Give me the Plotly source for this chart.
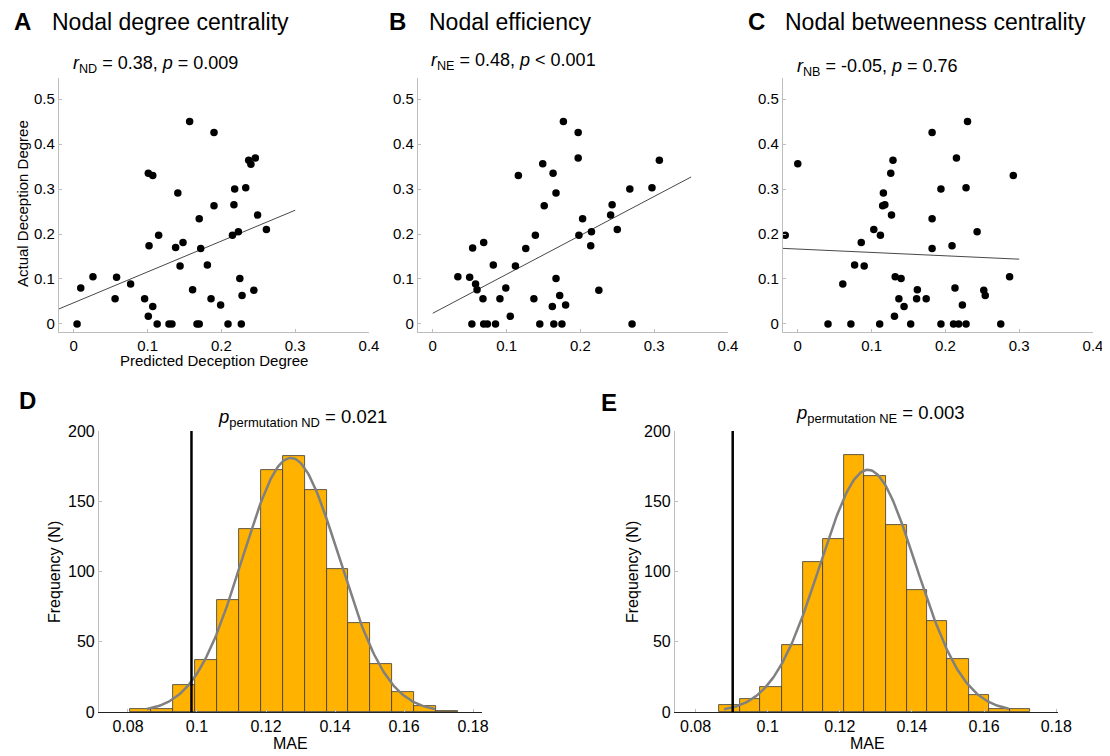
import numpy as np
import plotly.graph_objects as go

# ---------------- data ----------------
A_x = [0.0045, 0.0095, 0.026, 0.056, 0.058, 0.077, 0.096, 0.101, 0.107, 0.113, 0.102, 0.101, 0.107, 0.115,
       0.129, 0.133, 0.138, 0.141, 0.144, 0.148, 0.157, 0.161, 0.167, 0.170, 0.170, 0.172, 0.181, 0.186,
       0.190, 0.190, 0.199, 0.209, 0.215, 0.217, 0.218, 0.223, 0.225, 0.227, 0.228, 0.233, 0.237, 0.240,
       0.246, 0.244, 0.249, 0.261]
A_y = [0, 0.080, 0.105, 0.056, 0.104, 0.089, 0.056, 0.017, 0.039, 0, 0.174, 0.335, 0.330, 0.197,
       0, 0, 0.170, 0.291, 0.129, 0.181, 0.450, 0.076, 0, 0, 0.234, 0.168, 0.131, 0.056,
       0.426, 0.263, 0.042, 0, 0.197, 0.265, 0.300, 0.205, 0.101, 0, 0.063, 0.303, 0.364, 0.355,
       0.369, 0.075, 0.242, 0.210]

B_x = [0.034, 0.050, 0.054, 0.053, 0.058, 0.060, 0.068, 0.069, 0.069, 0.074, 0.082, 0.085, 0.091, 0.099,
       0.105, 0.112, 0.116, 0.126, 0.137, 0.139, 0.145, 0.149, 0.151, 0.162, 0.163, 0.164, 0.167, 0.167,
       0.172, 0.175, 0.177, 0.180, 0.197, 0.197, 0.198, 0.203, 0.214, 0.215, 0.225, 0.241, 0.243, 0.250,
       0.267, 0.270, 0.297, 0.307]
B_y = [0.105, 0.104, 0.169, 0, 0.089, 0.076, 0.056, 0.181, 0, 0, 0.131, 0, 0.056, 0.080,
       0.017, 0.129, 0.330, 0.168, 0.056, 0.197, 0, 0.356, 0.263, 0.039, 0.335, 0, 0.291, 0.101,
       0.063, 0, 0.450, 0.042, 0.426, 0.369, 0.197, 0.234, 0.174, 0.205, 0.075, 0.242, 0.265, 0.210,
       0.300, 0, 0.303, 0.364]

C_x = [-0.017, 0.000, 0.041, 0.061, 0.072, 0.077, 0.086, 0.090, 0.103, 0.111, 0.112, 0.116, 0.115, 0.118,
       0.126, 0.127, 0.129, 0.131, 0.132, 0.137, 0.140, 0.144, 0.153, 0.161, 0.162, 0.174, 0.182, 0.182,
       0.182, 0.194, 0.194, 0.209, 0.211, 0.213, 0.215, 0.218, 0.223, 0.228, 0.228, 0.230, 0.243, 0.252,
       0.254, 0.275, 0.287, 0.292]
C_y = [0.197, 0.356, 0, 0.089, 0, 0.131, 0.181, 0.129, 0.210, 0, 0.197, 0.291, 0.263, 0.265,
       0.335, 0.242, 0.364, 0.017, 0.105, 0.056, 0.101, 0.039, 0, 0.056, 0.076, 0.056, 0.426, 0.234,
       0.168, 0.300, 0, 0.174, 0, 0.080, 0.369, 0, 0.042, 0.303, 0, 0.450, 0.205, 0.075,
       0.063, 0, 0.105, 0.330]

# regression lines: (intercept, slope, x_start, x_end)
fit_A = (0.0471, 0.686, -0.02, 0.30)
fit_B = (0.0237, 0.866, 0.00, 0.35)
fit_C = (0.1665, -0.075, -0.02, 0.30)

# permutation histograms
D_edges = [0.0805, 0.0868, 0.0931, 0.0995, 0.1059, 0.1122, 0.1186, 0.1249, 0.1312, 0.1376, 0.1439,
           0.1501, 0.1565, 0.1629, 0.1693, 0.1757]
D_counts = [2, 2, 19, 37, 80, 130, 172, 182, 158, 102, 63, 34, 14, 4, 1]
E_edges = [0.0866, 0.0923, 0.0980, 0.1039, 0.1097, 0.1152, 0.1211, 0.1268, 0.1327, 0.1385, 0.1442,
           0.1497, 0.1557, 0.1614, 0.1671, 0.1728]
E_counts = [5, 9, 18, 48, 107, 123, 183, 168, 133, 87, 65, 38, 12, 2, 2]

# normal fits (mu, sigma, x_start, x_end) and observed MAE
D_fit = (0.1272, 0.0140, 0.0855, 0.169)
E_fit = (0.1278, 0.0133, 0.0879, 0.167)
D_obs = 0.0984
E_obs = 0.0903

scatter_xticks = [0, 0.1, 0.2, 0.3, 0.4]
scatter_xtext = ["0", "0.1", "0.2", "0.3", "0.4"]
scatter_yticks = [0, 0.1, 0.2, 0.3, 0.4, 0.5]
scatter_ytext = ["0", "0.1", "0.2", "0.3", "0.4", "0.5"]
hist_xticks = [0.08, 0.10, 0.12, 0.14, 0.16, 0.18]
hist_xtext = ["0.08", "0.1", "0.12", "0.14", "0.16", "0.18"]
hist_yticks = [0, 50, 100, 150, 200]

# ---------------- figure ----------------
W, H = 1110, 756
OFF = 8  # page body margin: screen position = paper position + OFF
FONT = "Liberation Sans, Arial, sans-serif"
GRAY = "#BDBDBD"


def px(x):
    return (x - OFF) / W


def py(y):
    return 1 - (y - OFF) / H


fig = go.Figure()

scatters = [(A_x, A_y, fit_A, "x", "y"), (B_x, B_y, fit_B, "x2", "y2"), (C_x, C_y, fit_C, "x3", "y3")]
for xs, ys, fit, xa, ya in scatters:
    b0, b1, xs0, xs1 = fit
    lx = np.array([xs0, xs1])
    fig.add_trace(go.Scatter(x=lx, y=b0 + b1 * lx, mode="lines", xaxis=xa, yaxis=ya,
                             line=dict(color="#333333", width=0.9), showlegend=False, hoverinfo="skip"))
    fig.add_trace(go.Scatter(x=xs, y=ys, mode="markers", xaxis=xa, yaxis=ya,
                             marker=dict(color="black", size=7.5), showlegend=False))

hists = [(D_edges, D_counts, D_fit, D_obs, "x4", "y4"), (E_edges, E_counts, E_fit, E_obs, "x5", "y5")]
for edges, counts, fitp, obs, xa, ya in hists:
    e = np.array(edges)
    widths = np.diff(e)
    fig.add_trace(go.Bar(x=e[:-1], y=counts, width=widths, offset=0, xaxis=xa, yaxis=ya,
                         marker=dict(color="#FFB300", line=dict(color="#3a3a3a", width=0.8)),
                         showlegend=False))
    mu, sd, c0, c1 = fitp
    cx = np.linspace(c0, c1, 200)
    binw = widths.mean()
    cy = sum(counts) * binw * np.exp(-0.5 * ((cx - mu) / sd) ** 2) / (sd * np.sqrt(2 * np.pi))
    fig.add_trace(go.Scatter(x=cx, y=cy, mode="lines", xaxis=xa, yaxis=ya,
                             line=dict(color="#808080", width=2.5), showlegend=False, hoverinfo="skip"))
    fig.add_trace(go.Scatter(x=[obs, obs], y=[0, 200], mode="lines", xaxis=xa, yaxis=ya,
                             line=dict(color="black", width=2.5), showlegend=False, hoverinfo="skip"))

common_axis = dict(showgrid=False, zeroline=False, showline=True, linecolor=GRAY, linewidth=1.2,
                   ticks="inside", ticklen=3, tickcolor=GRAY, tickwidth=1, automargin=False,
                   tickfont=dict(family=FONT, size=15, color="black"))

sc_dom_x = [(59, 369), (418, 728), (783, 1093)]
sc_dom_y = [py(332), py(78)]
for i, (a, b) in enumerate(sc_dom_x):
    sfx = "" if i == 0 else str(i + 1)
    fig.update_layout(**{
        "xaxis" + sfx: dict(common_axis, domain=[px(a), px(b)], range=[-0.02, 0.4],
                            tickvals=scatter_xticks, ticktext=scatter_xtext, anchor="y" + sfx),
        "yaxis" + sfx: dict(common_axis, domain=sc_dom_y, range=[-0.018, 0.547],
                            tickvals=scatter_yticks, ticktext=scatter_ytext, anchor="x" + sfx),
    })

hist_dom_y = [py(712), py(431)]
hist_specs = [(4, (99, 482), [0.0716, 0.1826]), (5, (675, 1058), [0.0743, 0.1805])]
for n, (a, b), rng in hist_specs:
    fig.update_layout(**{
        "xaxis%d" % n: dict(common_axis, domain=[px(a), px(b)], range=rng, linecolor="#222222",
                            tickvals=hist_xticks, ticktext=hist_xtext, anchor="y%d" % n,
                            tickfont=dict(family=FONT, size=16, color="black")),
        "yaxis%d" % n: dict(common_axis, domain=hist_dom_y, range=[0, 200],
                            tickvals=hist_yticks, anchor="x%d" % n,
                            tickfont=dict(family=FONT, size=16, color="black")),
    })

ann = []


def add_text(text, x, y, size, xanchor="left", yanchor="middle", angle=0):
    ann.append(dict(text=text, x=px(x), y=py(y), xref="paper", yref="paper", showarrow=False,
                    xanchor=xanchor, yanchor=yanchor, textangle=angle,
                    font=dict(family=FONT, size=size, color="black")))


# panel letters and titles
add_text("<b>A</b>", 12, 22, 24)
add_text("Nodal degree centrality", 50, 22, 23)
add_text("<b>B</b>", 387, 22, 24)
add_text("Nodal efficiency", 427, 22, 23)
add_text("<b>C</b>", 746, 22, 24)
add_text("Nodal betweenness centrality", 783, 22, 23)

add_text("<i>r</i><sub>ND</sub> = 0.38, <i>p</i> = 0.009", 71, 64, 18)
add_text("<i>r</i><sub>NE</sub> = 0.48, <i>p</i> &lt; 0.001", 429, 61, 18)
add_text("<i>r</i><sub>NB</sub> = -0.05, <i>p</i> = 0.76", 795, 68, 18)

add_text("Actual Deception Degree", 22, 204, 15, xanchor="center", angle=-90)
add_text("Predicted Deception Degree", 214, 360, 15, xanchor="center")

add_text("<b>D</b>", 17, 400, 24)
add_text("<b>E</b>", 599, 402, 24)
add_text("<i>p</i><sub>permutation ND</sub> = 0.021", 216, 418, 18.5)
add_text("<i>p</i><sub>permutation NE</sub> = 0.003", 794, 414, 18.5)

add_text("Frequency (N)", 54, 572, 16, xanchor="center", angle=-90)
add_text("MAE", 290, 743, 16, xanchor="center")
add_text("Frequency (N)", 632, 572, 16, xanchor="center", angle=-90)
add_text("MAE", 867, 743, 16, xanchor="center")

fig.update_layout(template="none", width=W, height=H, margin=dict(l=0, r=0, t=0, b=0, pad=0),
                  paper_bgcolor="white", plot_bgcolor="white", bargap=0,
                  annotations=ann, font=dict(family=FONT, color="black"))

fig.write_html("out.html")
